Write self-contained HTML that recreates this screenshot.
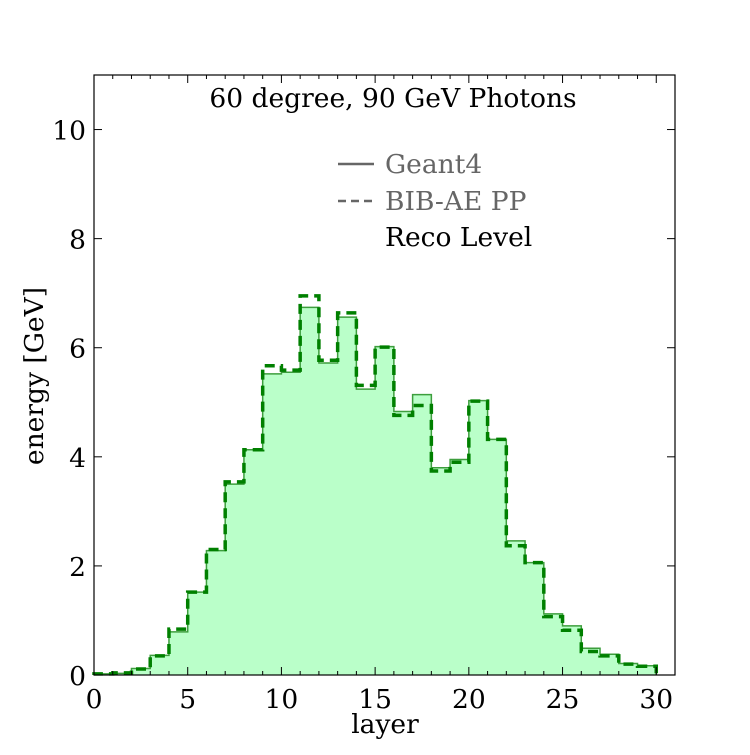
<!DOCTYPE html>
<html><head><meta charset="utf-8"><style>
body{margin:0;background:#fff}
svg text{font-family:"DejaVu Serif","Liberation Serif",serif}
</style></head><body>
<svg id="chart" width="750" height="750" viewBox="0 0 750 750">
<g id="plot"></g>
<g id="axes"></g>
<text x="393" y="107" font-size="26.5" text-anchor="middle">60 degree, 90 GeV Photons</text>
<g>
<g>
<line x1="338" y1="164" x2="374" y2="164" stroke="#666" stroke-width="2.5"/>
<text x="385" y="173" font-size="26.5" fill="#666">Geant4</text></g>
<g>
<line x1="338" y1="201" x2="374" y2="201" stroke="#666" stroke-width="2.5" stroke-dasharray="8,5"/>
<text x="385" y="210" font-size="26.5" fill="#666">BIB-AE PP</text></g>
<text x="385" y="246" font-size="26.5" fill="#000">Reco Level</text>
</g>
<text x="385" y="733" font-size="26.5" text-anchor="middle">layer</text>
<text transform="translate(43,376) rotate(-90)" font-size="26.5" text-anchor="middle">energy [GeV]</text>
</svg>
<script>
const geant4 = [0.02,0.03,0.12,0.36,0.79,1.52,2.28,3.50,4.13,5.52,5.55,6.74,5.72,6.56,5.24,6.02,4.83,5.14,3.80,3.95,5.03,4.32,2.46,2.06,1.12,0.90,0.49,0.38,0.21,0.17];
const bibae = [0.02,0.04,0.11,0.35,0.84,1.52,2.30,3.54,4.13,5.67,5.59,6.95,5.77,6.64,5.31,6.01,4.76,4.94,3.74,3.90,5.02,4.32,2.37,2.06,1.07,0.82,0.43,0.35,0.20,0.16];
const xTicks = [0,5,10,15,20,25,30];
const yTicks = [0,2,4,6,8,10];
const L=94,R=675,T=75,B=675,XMAX=31,YMAX=11;
const sx=v=>L+v*(R-L)/XMAX, sy=v=>B-v*(B-T)/YMAX;
const NS='http://www.w3.org/2000/svg';
const plot=document.getElementById('plot'), axes=document.getElementById('axes');
function mk(tag,attrs,parent){const e=document.createElementNS(NS,tag);for(const k in attrs)e.setAttribute(k,attrs[k]);parent.appendChild(e);return e;}
function stepPath(vals){let d='M'+sx(0)+','+sy(0);vals.forEach((v,i)=>{d+=' L'+sx(i)+','+sy(v)+' L'+sx(i+1)+','+sy(v);});d+=' L'+sx(vals.length)+','+sy(0);return d;}
const fill=mk('path',{d:stepPath(geant4)+' Z',fill:'#baffc9',stroke:'none'},plot);


const sol=mk('path',{d:stepPath(geant4),fill:'none',stroke:'#3d9e3d','stroke-width':'1.5'},plot);


const dash=mk('path',{d:stepPath(bibae),fill:'none',stroke:'#008000','stroke-width':'3.5','stroke-dasharray':'10,6'},plot);


const frame=mk('rect',{x:L,y:T,width:R-L,height:B-T,fill:'none',stroke:'#000','stroke-width':'1.2'},axes);


for(let i=0;i<=XMAX;i++){const x=sx(i),len=(i%5===0)?8:4;
 mk('line',{x1:x,y1:B,x2:x,y2:B-len,stroke:'#000'},axes);
 mk('line',{x1:x,y1:T,x2:x,y2:T+len,stroke:'#000'},axes);}
xTicks.forEach(v=>{const t=mk('text',{x:sx(v),y:B+33,'font-size':26.5,'text-anchor':'middle'},axes);t.textContent=v;
 
 });
yTicks.forEach(v=>{const y=sy(v);
 mk('line',{x1:L,y1:y,x2:L+8,y2:y,stroke:'#000'},axes);
 mk('line',{x1:R,y1:y,x2:R-8,y2:y,stroke:'#000'},axes);
 const t=mk('text',{x:L-8,y:y+10,'font-size':26.5,'text-anchor':'end'},axes);t.textContent=v;
 
 });
</script>
</body></html>
